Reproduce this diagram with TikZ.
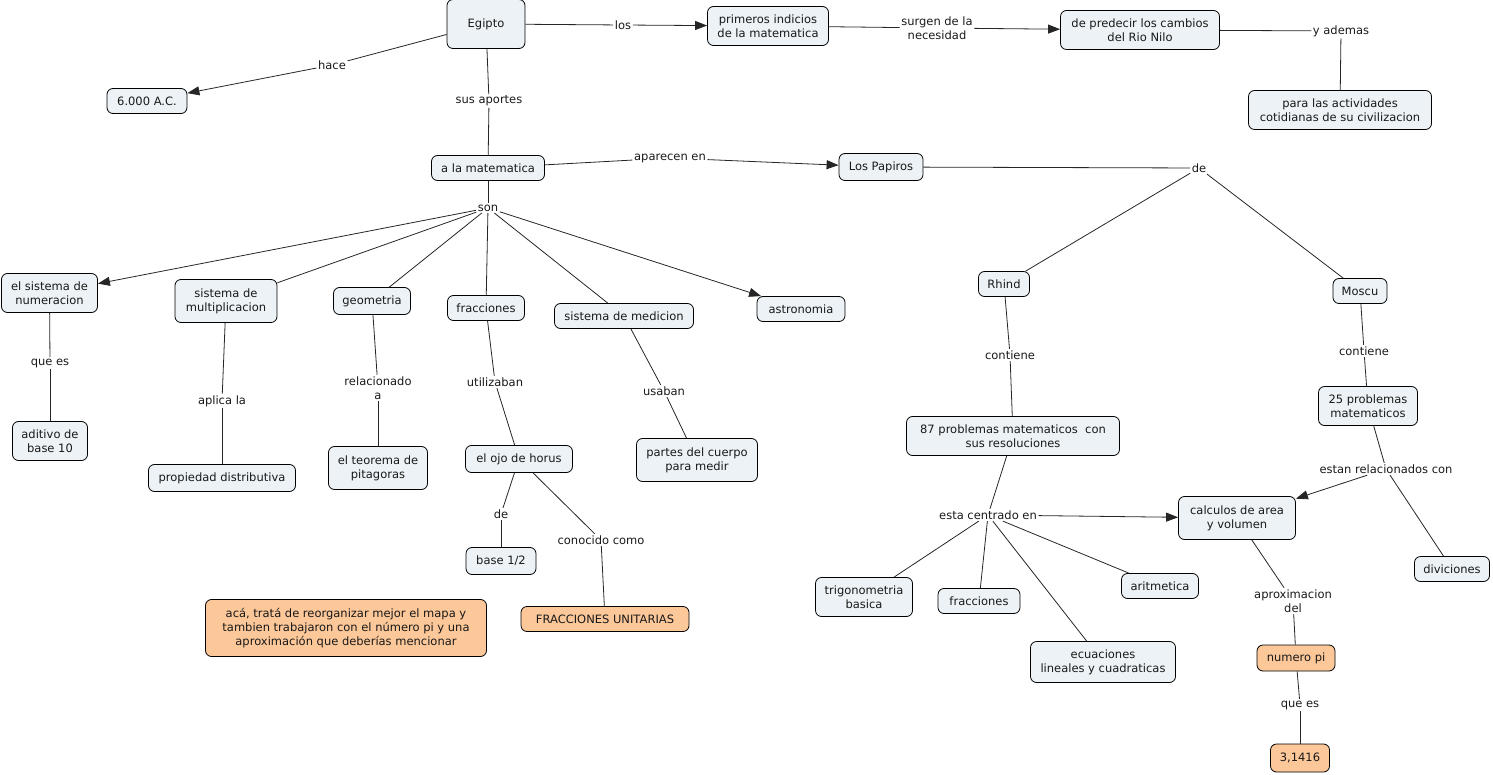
\documentclass[tikz,border=0pt]{standalone}
\usepackage{fontspec}
\setmainfont{DejaVu Sans}
\usetikzlibrary{arrows.meta}
\definecolor{nodefill}{RGB}{236,242,245}
\definecolor{orangefill}{RGB}{252,199,153}
\definecolor{txt}{RGB}{25,25,25}
\tikzset{
  cn/.style={draw=black, line width=0.8pt, rounded corners=6pt, fill=nodefill, align=center,
    font=\fontsize{11.5}{14}\selectfont, text=txt, inner sep=2pt},
  on/.style={cn, fill=orangefill},
  lbl/.style={align=center, font=\fontsize{11.5}{14}\selectfont, text=txt, inner sep=1.5pt},
  ln/.style={draw=black!85, line width=0.8pt},
  arr/.style={ln, -{Triangle[length=12pt,width=9pt]}},
}
\begin{document}
\begin{tikzpicture}[x=1pt,y=-1pt]
\useasboundingbox (0,0) rectangle (1493,775);
% concepts
\node[cn, minimum width=78pt, minimum height=49pt] (egipto) at (486,24) {Egipto};
\node[cn, minimum width=80pt, minimum height=25pt] (ac) at (147,101) {6.000 A.C.};
\node[cn, minimum width=121pt, minimum height=39pt] (prim) at (768,26) {primeros indicios\\de la matematica};
\node[cn, minimum width=159pt, minimum height=39pt] (pred) at (1140,30) {de predecir los cambios\\del Rio Nilo};
\node[cn, minimum width=183pt, minimum height=39pt] (para) at (1340,110) {para las actividades\\cotidianas de su civilizacion};
\node[cn, minimum width=113pt, minimum height=25pt] (mat) at (488,168) {a la matematica};
\node[cn, minimum width=84pt, minimum height=27pt] (pap) at (881,167) {Los Papiros};
\node[cn, minimum width=96pt, minimum height=39pt] (num) at (49.5,293) {el sistema de\\numeracion};
\node[cn, minimum width=102pt, minimum height=43pt] (mult) at (226,301) {sistema de\\multiplicacion};
\node[cn, minimum width=77pt, minimum height=27pt] (geo) at (372,301) {geometria};
\node[cn, minimum width=77pt, minimum height=25pt] (frac) at (486,308) {fracciones};
\node[cn, minimum width=139pt, minimum height=25pt] (med) at (624,316) {sistema de medicion};
\node[cn, minimum width=88pt, minimum height=25pt] (astro) at (801,309) {astronomia};
\node[cn, minimum width=75pt, minimum height=39pt] (adit) at (50,441) {aditivo de\\base 10};
\node[cn, minimum width=147pt, minimum height=27pt] (prop) at (222,478) {propiedad distributiva};
\node[cn, minimum width=99pt, minimum height=43pt] (teo) at (378,468) {el teorema de\\pitagoras};
\node[cn, minimum width=107pt, minimum height=27pt] (ojo) at (519,459) {el ojo de horus};
\node[cn, minimum width=121pt, minimum height=43pt] (partes) at (697,460) {partes del cuerpo\\para medir};
\node[cn, minimum width=70pt, minimum height=27pt] (base) at (501,561) {base 1/2};
\node[on, minimum width=168pt, minimum height=25pt] (fu) at (605,619) {FRACCIONES UNITARIAS};
\node[on, minimum width=281pt, minimum height=57pt] (nota) at (346,628) {acá, tratá de reorganizar mejor el mapa y\\tambien trabajaron con el número pi y una\\aproximación que deberías mencionar};
\node[cn, minimum width=51pt, minimum height=25pt] (rhind) at (1004,284) {Rhind};
\node[cn, minimum width=54pt, minimum height=25pt] (moscu) at (1360,291) {Moscu};
\node[cn, minimum width=213pt, minimum height=39pt] (p87) at (1013,436) {87 problemas matematicos\ \ con\\sus resoluciones};
\node[cn, minimum width=99pt, minimum height=39pt] (p25) at (1368,406) {25 problemas\\matematicos};
\node[cn, minimum width=117pt, minimum height=43pt] (calc) at (1237,518) {calculos de area\\y volumen};
\node[cn, minimum width=75pt, minimum height=25pt] (div) at (1452,569) {diviciones};
\node[cn, minimum width=97pt, minimum height=39pt] (trig) at (864,597) {trigonometria\\basica};
\node[cn, minimum width=82pt, minimum height=25pt] (frac2) at (979,601) {fracciones};
\node[cn, minimum width=77pt, minimum height=25pt] (arit) at (1160,586) {aritmetica};
\node[cn, minimum width=145pt, minimum height=41pt] (ecu) at (1103,662) {ecuaciones\\lineales y cuadraticas};
\node[on, minimum width=78pt, minimum height=26pt] (pi) at (1296,658) {numero pi};
\node[on, minimum width=59pt, minimum height=28pt] (val) at (1300,758) {3,1416};
% linking phrases
\node[lbl] (lhace) at (332,65) {hace};
\node[lbl] (llos) at (623,25) {los};
\node[lbl] (lsus) at (489,101) {sus aportes};
\node[lbl] (lsurg) at (937,28) {surgen de la\\necesidad};
\node[lbl] (lyad) at (1341,31) {y ademas};
\node[lbl] (lapa) at (670,158) {aparecen en};
\node[lbl] (lde) at (1199,168) {de};
\node[lbl] (lson) at (488,208) {son};
\node[lbl] (lque) at (50,363) {que es};
\node[lbl] (lapl) at (222,401) {aplica la};
\node[lbl] (lrel) at (378,388) {relacionado\\a};
\node[lbl] (luti) at (495,382) {utilizaban};
\node[lbl] (lusa) at (664,391) {usaban};
\node[lbl] (lde2) at (501,514) {de};
\node[lbl] (lcon) at (601,540) {conocido como};
\node[lbl] (lcont1) at (1010,355) {contiene};
\node[lbl] (lcont2) at (1364,351) {contiene};
\node[lbl] (lesta) at (988,515) {esta centrado en};
\node[lbl] (lestan) at (1386,469) {estan relacionados con};
\node[lbl] (laprox) at (1293,601) {aproximacion\\del};
\node[lbl] (lque2) at (1300,705) {que es};
% connectors
\draw[ln] (egipto) -- (lhace); \draw[arr] (lhace) -- (ac);
\draw[ln] (egipto) -- (llos); \draw[arr] (llos) -- (prim);
\draw[ln] (egipto) -- (lsus); \draw[ln] (lsus) -- (mat);
\draw[ln] (prim) -- (lsurg); \draw[arr] (lsurg) -- (pred);
\draw[ln] (pred) -- (lyad); \draw[ln] (lyad) -- (para);
\draw[ln] (mat) -- (lapa); \draw[arr] (lapa) -- (pap);
\draw[ln] (pap) -- (lde); \draw[ln] (lde) -- (rhind); \draw[ln] (lde) -- (moscu);
\draw[ln] (mat) -- (lson);
\draw[arr] (lson) -- (num);
\draw[ln] (lson) -- (mult);
\draw[ln] (lson) -- (geo);
\draw[ln] (lson) -- (frac);
\draw[ln] (lson) -- (med);
\draw[arr] (lson) -- (astro);
\draw[ln] (num) -- (lque); \draw[ln] (lque) -- (adit);
\draw[ln] (mult) -- (lapl); \draw[ln] (lapl) -- (prop);
\draw[ln] (geo) -- (lrel); \draw[ln] (lrel) -- (teo);
\draw[ln] (frac) -- (luti); \draw[ln] (luti) -- (ojo);
\draw[ln] (med) -- (lusa); \draw[ln] (lusa) -- (partes);
\draw[ln] (ojo) -- (lde2); \draw[ln] (lde2) -- (base);
\draw[ln] (ojo) -- (lcon); \draw[ln] (lcon) -- (fu);
\draw[ln] (rhind) -- (lcont1); \draw[ln] (lcont1) -- (p87);
\draw[ln] (moscu) -- (lcont2); \draw[ln] (lcont2) -- (p25);
\draw[ln] (p87) -- (lesta);
\draw[arr] (lesta) -- (calc);
\draw[ln] (lesta) -- (trig);
\draw[ln] (lesta) -- (frac2);
\draw[ln] (lesta) -- (ecu);
\draw[ln] (lesta) -- (arit);
\draw[ln] (p25) -- (lestan);
\draw[arr] (lestan) -- (calc);
\draw[ln] (lestan) -- (div);
\draw[ln] (calc) -- (laprox); \draw[ln] (laprox) -- (pi);
\draw[ln] (pi) -- (lque2); \draw[ln] (lque2) -- (val);
\end{tikzpicture}
\end{document}
